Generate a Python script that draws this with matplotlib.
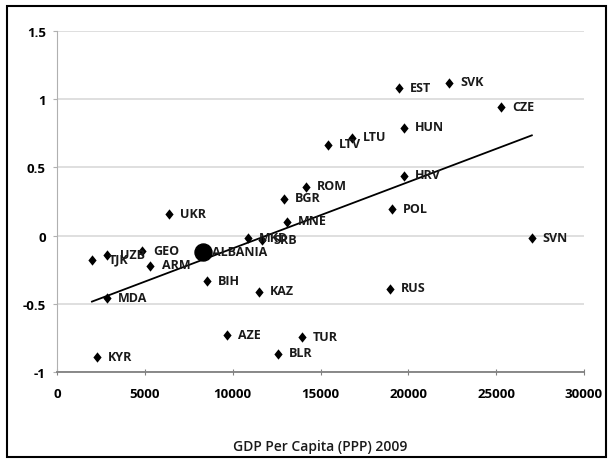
import numpy as np
import matplotlib
matplotlib.use("Agg")
import matplotlib.pyplot as plt
from matplotlib.patches import Rectangle

plt.rcParams['font.family'] = ['Open Sans', 'DejaVu Sans']

# country codes, GDP per capita (PPP) 2009 and index value
countries = ['EST', 'SVK', 'CZE', 'HUN', 'LTV', 'LTU', 'HRV', 'ROM', 'BGR', 'POL',
             'MNE', 'UKR', 'SVN', 'MKD', 'SRB', 'TJK', 'UZB', 'GEO', 'ARM', 'MDA',
             'KYR', 'BIH', 'KAZ', 'AZE', 'BLR', 'TUR', 'RUS']
gdp = [19470, 22310, 25270, 19750, 15420, 16790, 19750, 14170, 12920, 19070,
       13090, 6370, 27030, 10870, 11670, 1990, 2850, 4830, 5290, 2850,
       2280, 8540, 11500, 9670, 12570, 13940, 18950]
score = [1.08, 1.12, 0.94, 0.79, 0.665, 0.716, 0.44, 0.357, 0.27, 0.195,
         0.10, 0.158, -0.02, -0.02, -0.035, -0.18, -0.145, -0.115, -0.22, -0.46,
         -0.89, -0.335, -0.41, -0.73, -0.865, -0.746, -0.39]
# label offsets in pixels (dx) for crowded points
label_dx = {'TJK': 17, 'UZB': 13, 'ARM': 12}

albania_gdp = 8310
albania_score = -0.12

fig = plt.figure(figsize=(6.11, 4.64), dpi=100)
ax = fig.add_axes([0.0933, 0.196, 0.8625, 0.735])

diamond = [(0, 1), (0.8, 0), (0, -1), (-0.8, 0), (0, 1)]
ax.scatter(gdp, score, marker=diamond, s=55, color='black', zorder=3, linewidths=0)
ax.scatter([albania_gdp], [albania_score], marker='o', s=150, color='black', zorder=3)

# linear trend over all countries
all_x = np.array(gdp + [albania_gdp], dtype=float)
all_y = np.array(score + [albania_score])
k, b = np.polyfit(all_x, all_y, 1)
xs = np.array([all_x.min(), all_x.max()])
ax.plot(xs, k * xs + b, color='black', lw=1.3, zorder=2)

for name, x, y in zip(countries, gdp, score):
    ax.annotate(name, (x, y), xytext=(label_dx.get(name, 11), 1),
                textcoords='offset pixels', ha='left', va='center',
                fontsize=9, fontweight='bold', color='#1a1a1a')
ax.annotate('ALBANIA', (albania_gdp, albania_score), xytext=(9, 1),
            textcoords='offset pixels', ha='left', va='center',
            fontsize=9, fontweight='bold', color='#1a1a1a')

ax.set_xlim(0, 30000)
ax.set_ylim(-1, 1.5)
ax.set_xticks(np.arange(0, 30001, 5000))
ax.set_yticks([-1, -0.5, 0, 0.5, 1, 1.5])
ax.set_yticklabels(['-1', '-0.5', '0', '0.5', '1', '1.5'])
ax.grid(axis='y', color='#d9d9d9', lw=1.2)
ax.set_axisbelow(True)
for s in ['top', 'right']:
    ax.spines[s].set_visible(False)
ax.spines['left'].set_color('#b0b0b0')
ax.spines['bottom'].set_color('#808080')
ax.spines['bottom'].set_linewidth(1.3)
ax.tick_params(axis='y', length=3, color='#b0b0b0', labelsize=9.5, pad=5)
ax.tick_params(axis='x', direction='inout', length=5, color='#808080', labelsize=9.5, pad=8)
for lab in ax.get_xticklabels() + ax.get_yticklabels():
    lab.set_fontweight('bold')

ax.set_xlabel('GDP Per Capita (PPP) 2009', fontsize=10, fontweight='semibold',
              color='#1a1a1a', labelpad=28)

fig.patches.append(Rectangle((7 / 611, 1 - 458 / 464), 599 / 611, 451 / 464,
                             transform=fig.transFigure, fill=False,
                             edgecolor='black', lw=1.5))

fig.savefig('out.png', dpi=100)
